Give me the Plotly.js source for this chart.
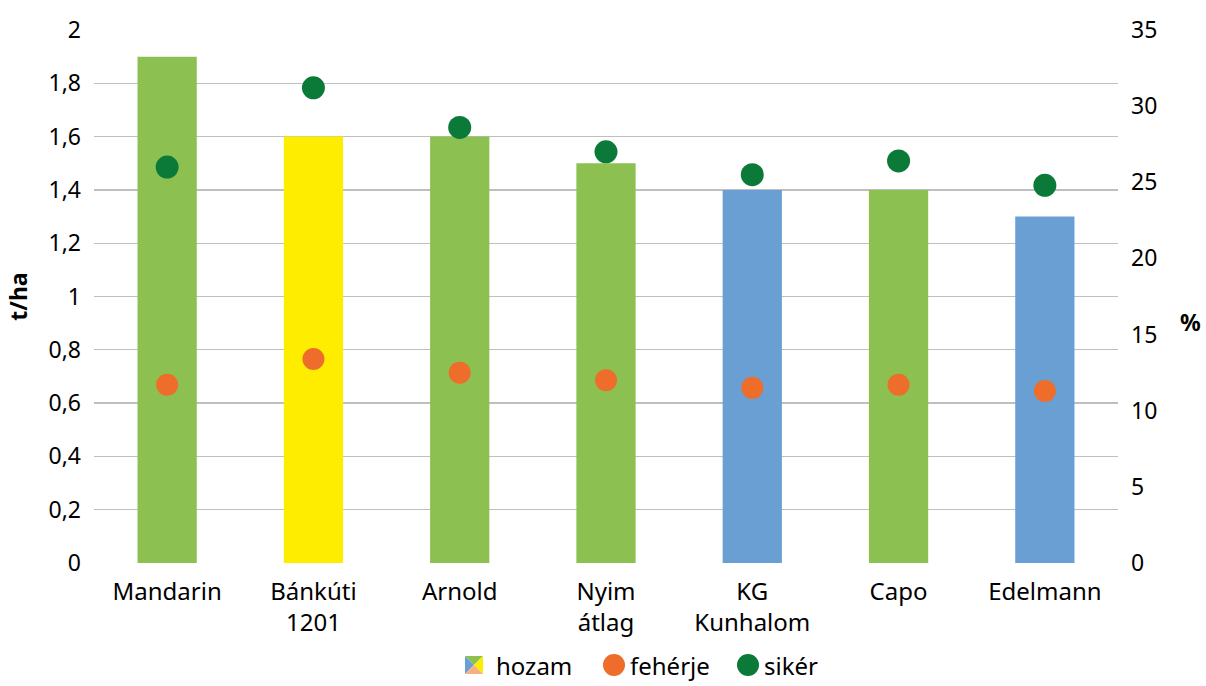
<!DOCTYPE html>
<html><head><meta charset="utf-8">
<script src="https://cdn.plot.ly/plotly-3.0.1.min.js"></script>
<style>html,body{margin:0;padding:0;background:#fff}#chart{width:1206px;height:686px}</style>
</head><body><div id="chart"></div>
<script>
const categories = ["Mandarin", "Bánkúti<br>1201", "Arnold", "Nyim<br>átlag", "KG<br>Kunhalom", "Capo", "Edelmann"];
const hozam = [1.9, 1.6, 1.6, 1.5, 1.4, 1.4, 1.3];
const barColors = ["#8CC152", "#FFED00", "#8CC152", "#8CC152", "#6A9FD3", "#8CC152", "#6A9FD3"];
const feherje = [11.7, 13.4, 12.5, 12.0, 11.5, 11.7, 11.3];
const siker = [26.0, 31.2, 28.6, 27.0, 25.5, 26.4, 24.8];

const FONT = "Noto Sans, Open Sans, sans-serif";
const L = 94, R = 1118, T = 30, B = 563;
const W = 1024, H = 533;
function px(x){return (x - L)/W;}
function py(y){return (B - y)/H;}

const traces = [
  {type:"bar", x:categories, y:hozam, name:"hozam", marker:{color:barColors}, yaxis:"y", showlegend:false, hoverinfo:"x+y"},
  {type:"scatter", mode:"markers", x:categories, y:feherje, name:"fehérje", yaxis:"y2", marker:{color:"#EE6D2A", size:22}, showlegend:false},
  {type:"scatter", mode:"markers", x:categories, y:siker, name:"sikér", yaxis:"y2", marker:{color:"#0B7A38", size:23}, showlegend:false}
];

const legY = 665;
const ic = 9;
function tri(path, color){
  return {type:"path", xref:"paper", yref:"paper", xsizemode:"pixel", ysizemode:"pixel",
          xanchor:px(474), yanchor:py(legY), path:path, fillcolor:color, line:{width:0}};
}
const shapes = [
  tri(`M ${-ic} ${ic} L ${ic} ${ic} L 0 0 Z`, "#8CC152"),
  tri(`M ${-ic} ${ic} L ${-ic} ${-ic} L 0 0 Z`, "#6A9FD3"),
  tri(`M ${ic} ${ic} L ${ic} ${-ic} L 0 0 Z`, "#FFED00"),
  tri(`M ${-ic} ${-ic} L ${ic} ${-ic} L 0 0 Z`, "#F8B07E"),
  {type:"circle", xref:"paper", yref:"paper", xsizemode:"pixel", ysizemode:"pixel", xanchor:px(614), yanchor:py(legY),
   x0:-11, x1:11, y0:-11, y1:11, fillcolor:"#EE6D2A", line:{width:0}},
  {type:"circle", xref:"paper", yref:"paper", xsizemode:"pixel", ysizemode:"pixel", xanchor:px(748), yanchor:py(legY),
   x0:-11, x1:11, y0:-11, y1:11, fillcolor:"#0B7A38", line:{width:0}}
];

const legFont = {family:FONT, size:24, color:"#000"};
const annotations = [
  {xref:"paper", yref:"paper", x:px(494), y:py(legY), text:"hozam", showarrow:false, xanchor:"left", yanchor:"middle", font:legFont},
  {xref:"paper", yref:"paper", x:px(628), y:py(legY), text:"fehérje", showarrow:false, xanchor:"left", yanchor:"middle", font:legFont},
  {xref:"paper", yref:"paper", x:px(762), y:py(legY), text:"sikér", showarrow:false, xanchor:"left", yanchor:"middle", font:legFont},
  {xref:"paper", yref:"paper", x:px(1190), y:py(322), text:"<b>%</b>", showarrow:false, xanchor:"center", yanchor:"middle", font:{family:FONT, size:23, color:"#000"}}
];

const tickFont = {family:FONT, size:23, color:"#000"};
const layout = {
  width:1206, height:686,
  margin:{l:L, r:1206-R, t:T, b:686-B},
  paper_bgcolor:"#fff", plot_bgcolor:"#fff",
  separators:",.",
  bargap:0.595,
  font:{family:FONT, size:23, color:"#000"},
  showlegend:false,
  xaxis:{type:"category", showgrid:false, zeroline:false, showline:false, ticks:"", tickfont:{family:FONT, size:24, color:"#000"}, ticklabelstandoff:12, automargin:false},
  yaxis:{range:[0,2], dtick:0.2, showgrid:true, gridcolor:"#BFBFBF", gridwidth:1.3, zeroline:false, showline:false,
         ticks:"", tickfont:tickFont, ticklabelstandoff:12,
         title:{text:"<b>t/ha</b>", font:{family:FONT, size:23, color:"#000"}, standoff:14}, automargin:false},
  yaxis2:{range:[0,35], dtick:5, overlaying:"y", side:"right", showgrid:false, zeroline:false, showline:false,
          ticks:"", tickfont:tickFont, ticklabelstandoff:12, automargin:false},
  shapes:shapes,
  annotations:annotations
};

Plotly.newPlot("chart", traces, layout, {displayModeBar:false, staticPlot:true});
</script>
</body></html>
